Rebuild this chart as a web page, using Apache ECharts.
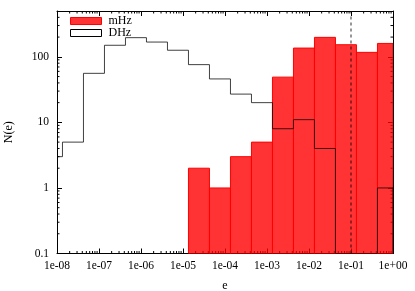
<!DOCTYPE html>
<html>
<head>
<meta charset="utf-8">
<script src="https://cdn.jsdelivr.net/npm/echarts@6/dist/echarts.min.js"></script>
<style>html,body{margin:0;padding:0;background:#fff}#c{width:415px;height:291px}</style>
</head>
<body>
<div id="c"></div>
<script>
// bin edges in log10(e), 0.5-decade bins
const binEdgesLog = [-8.37, -7.87, -7.37, -6.87, -6.37, -5.87, -5.37, -4.87, -4.37, -3.87, -3.37, -2.87, -2.37, -1.87, -1.37, -0.87, -0.37, 0.13];
const mHz = [0, 0, 0, 0, 0, 0, 0, 2, 1, 3, 5, 49, 136, 198, 153, 117, 160];
const DHz = [3, 5, 56, 150, 196, 168, 126, 76, 46, 27, 20, 8, 11, 4, 0, 0, 1];
const xTickExps = [-8, -7, -6, -5, -4, -3, -2, -1, 0];
const yTickLabels = ['0.1', '1', '10', '100'];
const vLineX = [0.1];

const xMin = 1e-8, xMax = 1, yMin = 0.1, yMax = 500;
const FONT = 'Liberation Serif';

function clipX(v) { return Math.min(Math.max(v, xMin), xMax); }
function yv(v) { return v > 0 ? v : yMin; }

const mData = [];
const dData = [];
for (let i = 0; i < mHz.length; i++) {
  const l = Math.pow(10, binEdgesLog[i]), r = Math.pow(10, binEdgesLog[i + 1]);
  if (mHz[i] > 0) mData.push([l, r, mHz[i]]);
  dData.push([l, r, DHz[i], i > 0 ? DHz[i - 1] : 0, i === DHz.length - 1 ? 1 : 0]);
}

const xMinor = [];
for (let k = -8; k < 0; k++) for (let m = 2; m <= 9; m++) xMinor.push(m * Math.pow(10, k));
const yMinor = [];
for (let k = -1; k <= 2; k++) for (let m = 2; m <= 9; m++) { const v = m * Math.pow(10, k); if (v < yMax) yMinor.push(v); }

function fmtX(v) {
  const e = Math.round(Math.log10(v));
  if (Math.abs(Math.log10(v) - e) > 1e-6 || xTickExps.indexOf(e) < 0) return '';
  return '1e' + (e < 0 ? '-' : '+') + String(Math.abs(e)).padStart(2, '0');
}
function fmtY(v) {
  const e = Math.round(Math.log10(v));
  if (Math.abs(Math.log10(v) - e) > 1e-6) return '';
  return yTickLabels[e + 1] || '';
}

const axisCommon = {
  type: 'log', logBase: 10,
  axisLine: { show: true, lineStyle: { color: '#000', width: 1 } },
  axisTick: { show: true, inside: true, length: 5, lineStyle: { color: '#000' } },
  splitLine: { show: false },
  minorTick: { show: false }
};

const chart = echarts.init(document.getElementById('c'), null, { renderer: 'canvas' });
chart.setOption({
  animation: false,
  backgroundColor: '#fff',
  grid: { left: 57, right: 22, top: 11, bottom: 37.5, containLabel: false, outerBoundsMode: 'none' },
  legend: {
    left: 70, top: 15, orient: 'vertical', itemWidth: 31, itemHeight: 7, itemGap: 0, padding: 0,
    textStyle: { fontFamily: FONT, fontSize: 12, color: '#000', lineHeight: 11, padding: [0, 0, 0, 2] },
    data: [
      { name: 'mHz', icon: 'rect', itemStyle: { color: 'rgba(255,0,0,0.8)', borderColor: '#ff0000', borderWidth: 1 } },
      { name: 'DHz', icon: 'rect', itemStyle: { color: '#fff', borderColor: '#000', borderWidth: 1 } }
    ]
  },
  xAxis: [
    Object.assign({}, axisCommon, {
      min: xMin, max: xMax, position: 'bottom', splitNumber: 10,
      name: 'e', nameLocation: 'middle', nameGap: 26,
      nameTextStyle: { fontFamily: FONT, fontSize: 12, color: '#000' },
      axisLabel: { interval: 0, formatter: fmtX, fontFamily: FONT, fontSize: 11.5, color: '#000', margin: 6 }
    }),
    Object.assign({}, axisCommon, {
      min: xMin, max: xMax, position: 'top', splitNumber: 10,
      axisLabel: { show: false }
    })
  ],
  yAxis: [
    Object.assign({}, axisCommon, {
      min: yMin, max: yMax, position: 'left',
      name: 'N(e)', nameLocation: 'middle', nameGap: 42, nameRotate: 90,
      nameTextStyle: { fontFamily: FONT, fontSize: 12, color: '#000' },
      axisLabel: { formatter: fmtY, fontFamily: FONT, fontSize: 11.5, color: '#000', margin: 8, showMaxLabel: false }
    }),
    Object.assign({}, axisCommon, {
      min: yMin, max: yMax, position: 'right',
      axisLabel: { show: false }
    })
  ],
  series: [
    {
      name: 'mHz', type: 'custom', z: 2, clip: true,
      itemStyle: { color: 'rgba(255,0,0,0.8)' },
      data: mData,
      renderItem: function (params, api) {
        const p0 = api.coord([clipX(api.value(0)), api.value(2)]);
        const p1 = api.coord([clipX(api.value(1)), yMin]);
        return {
          type: 'rect',
          shape: { x: p0[0], y: p0[1], width: p1[0] - p0[0], height: p1[1] - p0[1] },
          style: { fill: 'rgba(255,0,0,0.8)', stroke: '#ff0000', lineWidth: 1 }
        };
      }
    },
    {
      name: 'DHz', type: 'custom', z: 3, clip: true,
      itemStyle: { color: '#000' },
      data: dData,
      renderItem: function (params, api) {
        const l = clipX(api.value(0)), r = clipX(api.value(1));
        const v = yv(api.value(2)), pv = yv(api.value(3));
        const pts = [api.coord([l, pv]), api.coord([l, v]), api.coord([r, v])];
        if (api.value(4) === 1) pts.push(api.coord([r, yMin]));
        return {
          type: 'polyline',
          shape: { points: pts },
          style: { fill: null, stroke: 'rgba(0,0,0,0.75)', lineWidth: 1 }
        };
      }
    },
    {
      name: 'vline', type: 'custom', z: 4, clip: true, silent: true,
      data: vLineX.map(function (x) { return [x]; }),
      renderItem: function (params, api) {
        const a = api.coord([api.value(0), yMin]), b = api.coord([api.value(0), yMax]);
        return {
          type: 'line',
          shape: { x1: a[0], y1: a[1], x2: b[0], y2: b[1] },
          style: { stroke: 'rgba(0,0,0,0.55)', lineWidth: 1.5, lineDash: [3, 3] }
        };
      }
    },
    {
      name: 'xminor', type: 'custom', z: 1, silent: true,
      data: xMinor.map(function (x) { return [x]; }),
      renderItem: function (params, api) {
        const a = api.coord([api.value(0), yMin]), b = api.coord([api.value(0), yMax]);
        return {
          type: 'group',
          children: [
            { type: 'line', shape: { x1: a[0], y1: a[1], x2: a[0], y2: a[1] - 2.5 }, style: { stroke: '#000', lineWidth: 1 } },
            { type: 'line', shape: { x1: b[0], y1: b[1], x2: b[0], y2: b[1] + 2.5 }, style: { stroke: '#000', lineWidth: 1 } }
          ]
        };
      }
    },
    {
      name: 'yminor', type: 'custom', z: 1, silent: true,
      data: yMinor.map(function (y) { return [y]; }),
      renderItem: function (params, api) {
        const a = api.coord([xMin, api.value(0)]), b = api.coord([xMax, api.value(0)]);
        return {
          type: 'group',
          children: [
            { type: 'line', shape: { x1: a[0], y1: a[1], x2: a[0] + 2.5, y2: a[1] }, style: { stroke: '#000', lineWidth: 1 } },
            { type: 'line', shape: { x1: b[0], y1: b[1], x2: b[0] - 2.5, y2: b[1] }, style: { stroke: '#000', lineWidth: 1 } }
          ]
        };
      },
      encode: { x: -1, y: 0 }
    }
  ]
});
</script>
</body>
</html>
